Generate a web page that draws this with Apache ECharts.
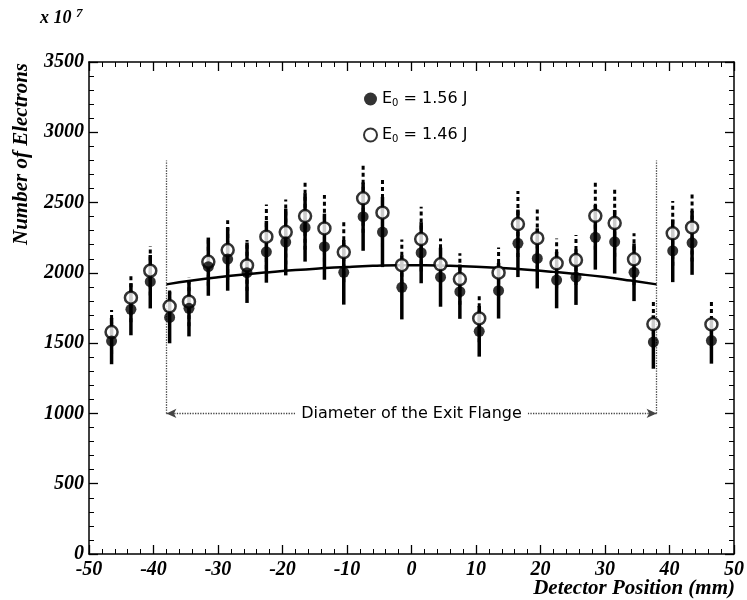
<!DOCTYPE html>
<html>
<head>
<meta charset="utf-8">
<script src="https://cdn.jsdelivr.net/npm/echarts@6/dist/echarts.min.js"></script>
<style>html,body{margin:0;padding:0;background:#fff;}#c{width:747px;height:600px;}</style>
</head>
<body>
<div id="c"></div>
<script>
// Detector positions (mm)
const positions = [-46.5,-43.5,-40.5,-37.5,-34.5,-31.5,-28.5,-25.5,-22.5,-19.5,-16.5,-13.5,-10.5,-7.5,-4.5,-1.5,
                   1.5,4.5,7.5,10.5,13.5,16.5,19.5,22.5,25.5,28.5,31.5,34.5,37.5,40.5,43.5,46.5];
// E0 = 1.56 J (filled)
const filledVals = [1515,1741,1937,1683,1748,2044,2098,2001,2150,2219,2323,2186,2004,2400,2290,1897,
                    2143,1969,1866,1584,1873,2210,2103,1949,1969,2253,2221,2004,1508,2157,2214,1518];
const filledErr  = [165,185,190,184,200,207,225,215,220,237,243,235,230,243,249,228,
                    217,210,193,180,198,240,214,201,197,230,226,205,190,223,228,164];
// E0 = 1.46 J (open)
const openVals = [1579,1823,2015,1762,1795,2079,2162,2053,2257,2290,2404,2316,2148,2530,2428,2055,
                  2240,2061,1956,1676,2001,2347,2247,2068,2091,2406,2354,2096,1636,2281,2323,1633];
const openErr  = [156,174,176,115,175,170,213,180,230,231,239,237,215,244,244,183,
                  230,184,183,170,180,235,223,177,178,242,239,185,171,231,242,167];
// Fitted curve
const curveX = [-38,-34,-30,-26,-22,-18,-14,-10,-6,-2,2,6,10,14,18,22,26,30,34,38];
const curveY = [1918,1945,1968,1988,2005,2020,2032,2042,2050,2055,2055,2050,2043,2034,2022,2007,1990,1970,1945,1918];
// Flange
const flangeEdges = [-38, 38];
const flangeTop = 2800, flangeY = 1000;
const flangeText = 'Diameter of the Exit Flange';
const xTicks = [-50,-40,-30,-20,-10,0,10,20,30,40,50];
const yTicks = [0,500,1000,1500,2000,2500,3000,3500];

const nameFilled = 'E0 = 1.56 J', nameOpen = 'E0 = 1.46 J';
const serif = 'Liberation Serif';

function errData(vals, errs){ return positions.map((x,i)=>[x, vals[i]-errs[i], vals[i]+errs[i]]); }
function errRender(dashed){
  return function(params, api){
    const p1 = api.coord([api.value(0), api.value(1)]);
    const p2 = api.coord([api.value(0), api.value(2)]);
    return {type:'line', shape:{x1:p1[0],y1:p1[1],x2:p2[0],y2:p2[1]},
      style:{stroke:'#000', lineWidth: dashed?3:3.5, lineDash: dashed?[4,3]:null}};
  };
}

const chart = echarts.init(document.getElementById('c'), null, {renderer:'canvas'});
const axisCommon = {
  axisLine:{show:true, onZero:false, lineStyle:{color:'#000', width:1.5}},
  axisTick:{show:true, inside:true, length:9, lineStyle:{color:'#000', width:1.3}},
  minorTick:{show:true, splitNumber:5, length:5, lineStyle:{color:'#000', width:1}},
  splitLine:{show:false}
};
const tickFont = {fontFamily:serif, fontWeight:'bold', fontStyle:'italic', fontSize:20, color:'#000'};
chart.setOption({
  animation:false,
  backgroundColor:'#fff',
  grid:{left:89, right:12, top:62, bottom:46},
  legend:{
    left:358, top:86, orient:'vertical', itemGap:19, itemWidth:13, itemHeight:13,
    data:[nameFilled, nameOpen],
    formatter: n => n===nameFilled ? 'E{s|0} = 1.56 J' : 'E{s|0} = 1.46 J',
    textStyle:{fontFamily:'DejaVu Sans', fontSize:16, color:'#000',
      rich:{s:{fontFamily:'DejaVu Sans', fontSize:10, color:'#000', verticalAlign:'bottom', padding:[8,0,0,0]}}}
  },
  xAxis:[
    Object.assign({type:'value', min:-50, max:50, interval:10, position:'bottom',
      axisLabel:Object.assign({margin:6, formatter: v => xTicks.indexOf(v)>=0 ? String(v) : ''}, tickFont)}, axisCommon),
    Object.assign({type:'value', min:-50, max:50, interval:10, position:'top', axisLabel:{show:false}}, axisCommon)
  ],
  yAxis:[
    Object.assign({type:'value', min:0, max:3500, interval:500, position:'left',
      axisLabel:Object.assign({margin:5, formatter: v => yTicks.indexOf(v)>=0 ? String(v) : ''}, tickFont)}, axisCommon),
    Object.assign({type:'value', min:0, max:3500, interval:500, position:'right', axisLabel:{show:false}}, axisCommon)
  ],
  graphic:[
    {type:'text', left:40, top:7, style:{rich:{a:{fontFamily:serif, fontWeight:'bold', fontStyle:'italic', fontSize:18, fill:'#000'},
      b:{fontFamily:serif, fontWeight:'bold', fontStyle:'italic', fontSize:13, fill:'#000', verticalAlign:'top', padding:[0,0,10,0]}},
      text:'{a|x 10 }{b|7}'}},
    {type:'text', x:22, y:154, rotation:Math.PI/2, style:{text:'Number of Electrons', fontFamily:serif, fontWeight:'bold',
      fontStyle:'italic', fontSize:21, fill:'#000', textAlign:'center', textVerticalAlign:'middle'}},
    {type:'text', x:735, y:589, style:{text:'Detector Position (mm)', fontFamily:serif, fontWeight:'bold',
      fontStyle:'italic', fontSize:21, fill:'#000', textAlign:'right', textVerticalAlign:'middle'}}
  ],
  series:[
    {name:'curve', type:'line', smooth:true, showSymbol:false, symbol:'none',
      data: curveX.map((x,i)=>[x, curveY[i]]), lineStyle:{color:'#000', width:2.5}, z:3,
      markLine:{silent:true, symbol:'none', animation:false,
        lineStyle:{type:'dotted', color:'#444', width:1.3},
        label:{show:false},
        data:[
          [{coord:[flangeEdges[0], flangeY]}, {coord:[flangeEdges[0], flangeTop]}],
          [{coord:[flangeEdges[1], flangeY]}, {coord:[flangeEdges[1], flangeTop]}],
          [{coord:[flangeEdges[0], flangeY], symbol:'arrow', symbolSize:[7,10]},
           {coord:[flangeEdges[1], flangeY], symbol:'arrow', symbolSize:[7,10]}]
        ]
      },
      markPoint:{silent:true, animation:false, symbol:'rect', symbolSize:[0.1,0.1], itemStyle:{color:'#fff'},
        label:{show:true, position:'inside', formatter:flangeText, fontFamily:'DejaVu Sans', fontSize:16,
          color:'#000', backgroundColor:'#fff', padding:[1,6]},
        data:[{coord:[0, flangeY]}]
      }
    },
    {name:'errOpen', type:'custom', data: errData(openVals, openErr), renderItem: errRender(true), z:4, silent:true},
    {name:'errFilled', type:'custom', data: errData(filledVals, filledErr), renderItem: errRender(false), z:5, silent:true},
    {name:nameOpen, type:'scatter', symbol:'circle', symbolSize:12, data: positions.map((x,i)=>[x, openVals[i]]),
      itemStyle:{color:'#fff', borderColor:'#000', borderWidth:2.5}, z:6},
    {name:nameFilled, type:'scatter', symbol:'circle', symbolSize:11, data: positions.map((x,i)=>[x, filledVals[i]]),
      itemStyle:{color:'#000'}, z:7}
  ]
});
</script>
</body>
</html>
